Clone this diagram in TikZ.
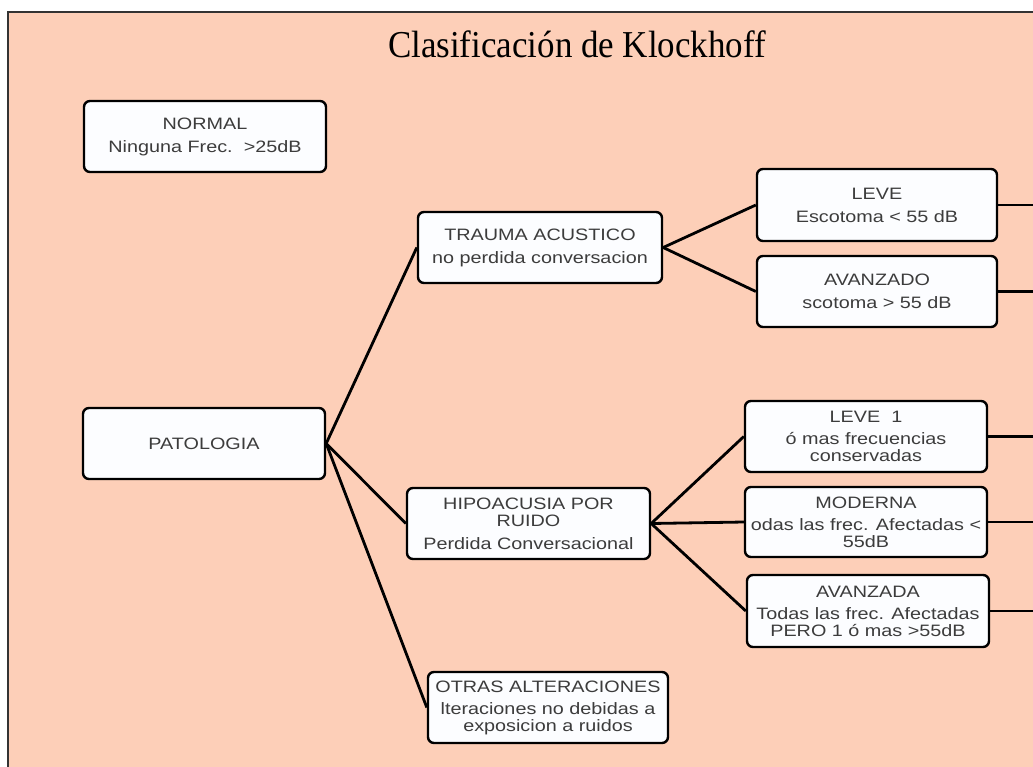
\documentclass[tikz,border=0pt]{standalone}
\usepackage{fontspec}
\newfontfamily\boxfont[FakeStretch=1.2]{Liberation Sans}
\newfontfamily\titlefont[FakeStretch=0.92]{Liberation Serif}
\definecolor{peach}{RGB}{253,207,184}
\definecolor{boxtext}{RGB}{60,60,60}
\definecolor{boxfill}{RGB}{252,253,255}
\tikzset{
  klbox/.style={draw=black, line width=2.4pt, rounded corners=6pt, fill=boxfill,
    minimum width=242pt, minimum height=71pt, inner sep=0pt, align=center,
    text=boxtext, font=\boxfont\fontsize{16.5}{17}\selectfont},
  link/.style={line width=2.8pt, black},
}
\begin{document}
\begin{tikzpicture}[x=1pt,y=-1pt]
\useasboundingbox (0,0) rectangle (1033,766);
\clip (0,0) rectangle (1033,766);
\fill[white] (0,0) rectangle (1033,766);
\draw[fill=peach, draw=black!80, line width=2.5pt] (8,12) rectangle (1060,790);
\node[font=\titlefont\fontsize{38}{42}\selectfont, text=black] (title) at (577,44) {Clasificación de Klockhoff};

\node[klbox] (normal) at (205,136.5) {NORMAL\\[6pt]Ninguna Frec.\ \ >25dB};
\node[klbox] (pat) at (204,443.5) {PATOLOGIA};
\node[klbox, minimum width=244pt] (trauma) at (540,247.5) {TRAUMA ACUSTICO\\[6pt]no perdida conversacion};
\node[klbox, minimum width=240pt, minimum height=72pt] (leve) at (877,205) {LEVE\\[6pt]Escotoma < 55 dB};
\node[klbox, minimum width=240pt] (avanzado) at (877,291.5) {AVANZADO\\[6pt]scotoma > 55 dB};
\node[klbox, minimum width=243pt] (hipo) at (528.5,523.5) {HIPOACUSIA POR\\RUIDO\\[6pt]Perdida Conversacional};
\node[klbox] (leve1) at (866,436.5) {LEVE\ \ 1\\[5pt]ó mas frecuencias\\conservadas};
\node[klbox, minimum height=70pt] (moderna) at (866,522) {MODERNA\\[5pt]odas las frec. Afectadas <\\55dB};
\node[klbox, minimum height=72pt] (avanzada) at (868,611) {AVANZADA\\[5pt]Todas las frec. Afectadas\\PERO 1 ó mas >55dB};
\node[klbox, minimum width=240pt] (otras) at (548,707.5) {OTRAS ALTERACIONES\\[5pt]lteraciones no debidas a\\exposicion a ruidos};

\coordinate (e1) at (1040,205);
\coordinate (e2) at (1040,291.5);
\coordinate (e3) at (1040,436.5);
\coordinate (e4) at (1040,522);
\coordinate (e5) at (1040,611);

\draw[link] (pat.east) -- (trauma.west);
\draw[link] (pat.east) -- (hipo.west);
\draw[link] (pat.east) -- (otras.west);
\draw[link] (trauma.east) -- (leve.west);
\draw[link] (trauma.east) -- (avanzado.west);
\draw[link] (hipo.east) -- (leve1.west);
\draw[link] (hipo.east) -- (moderna.west);
\draw[link] (hipo.east) -- (avanzada.west);
\draw[link] (leve.east) -- (e1);
\draw[link] (avanzado.east) -- (e2);
\draw[link] (leve1.east) -- (e3);
\draw[link] (moderna.east) -- (e4);
\draw[link] (avanzada.east) -- (e5);
\end{tikzpicture}
\end{document}
